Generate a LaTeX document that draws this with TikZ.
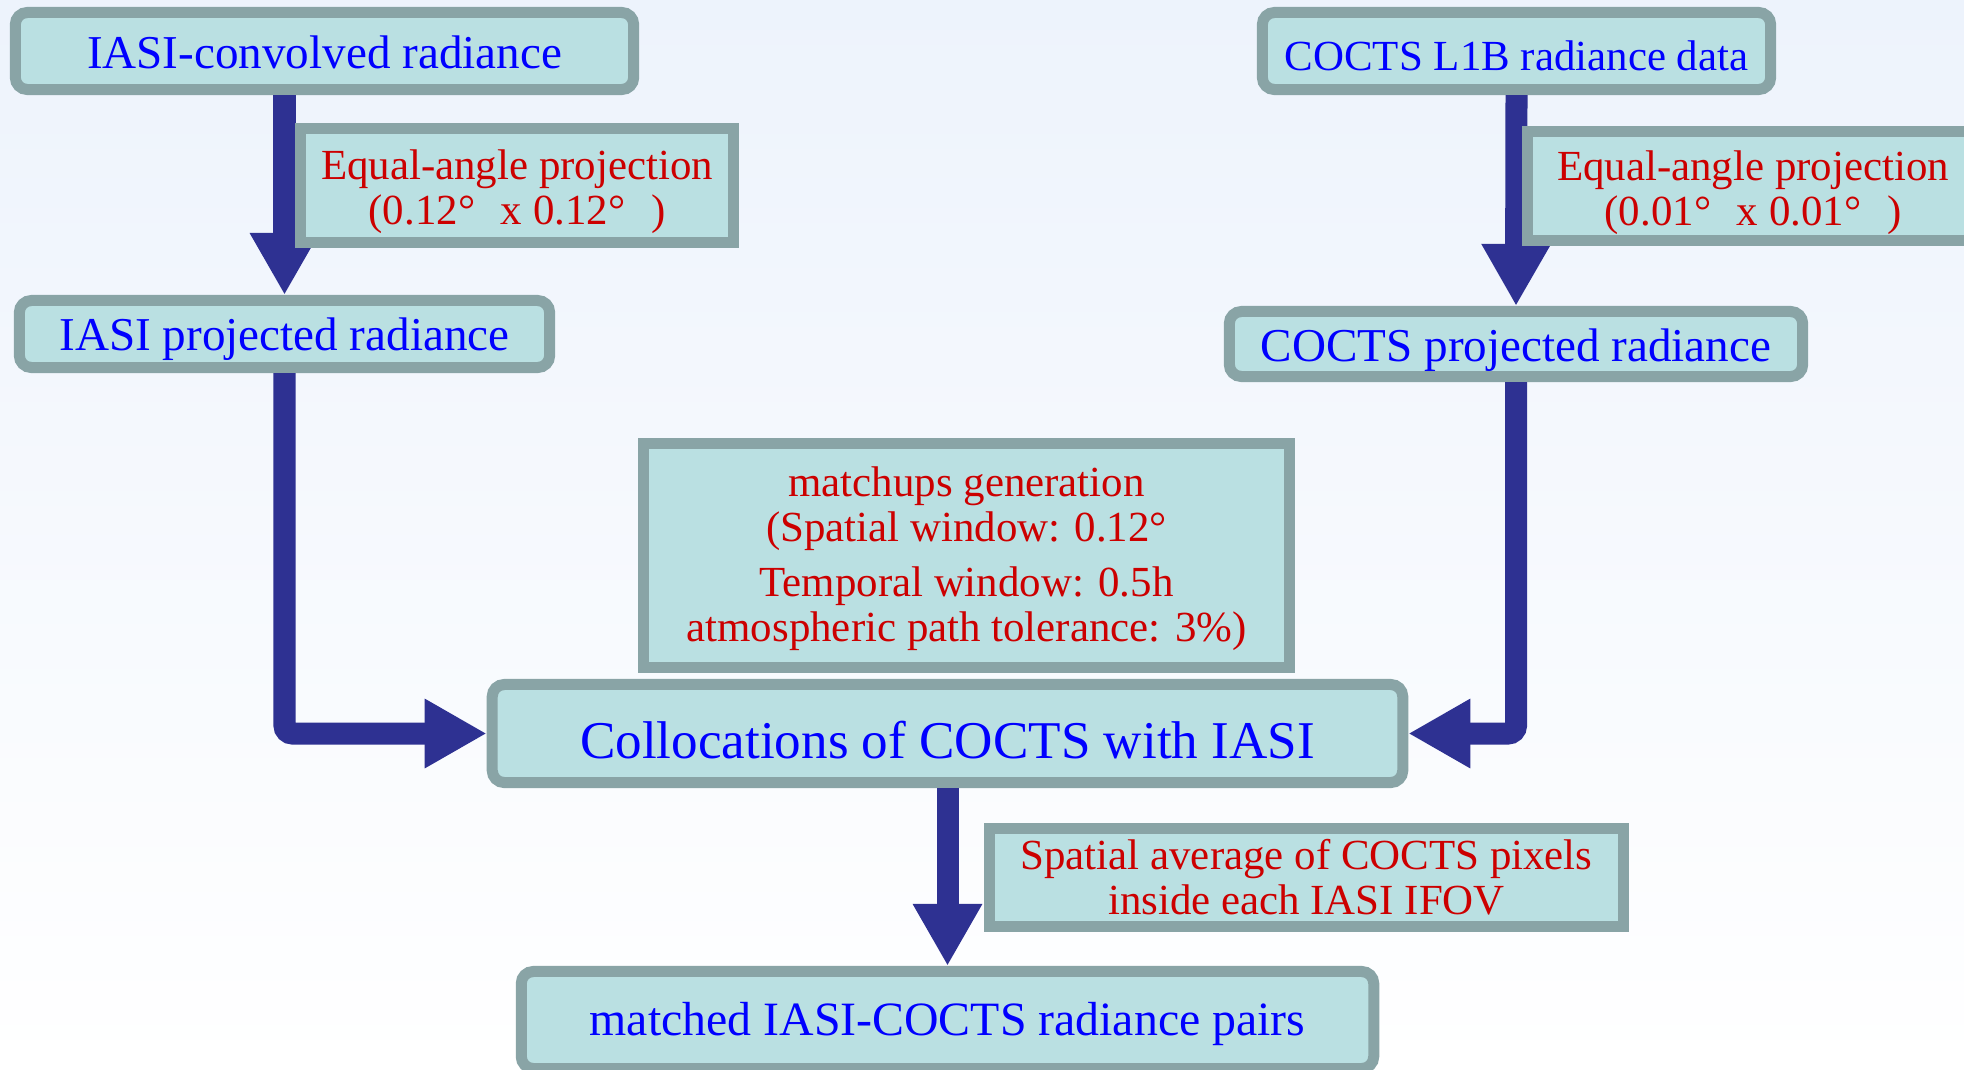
\documentclass[tikz,border=0pt]{standalone}
\usepackage{fontspec}
\setmainfont{Liberation Serif}
\usepackage{xcolor}
\usetikzlibrary{arrows.meta,positioning}
\definecolor{boxfill}{HTML}{BAE0E2}
\definecolor{boxline}{HTML}{89A4A6}
\definecolor{flowblue}{HTML}{2E3192}
\definecolor{txtblue}{HTML}{0000FF}
\definecolor{txtred}{HTML}{CC0000}
\definecolor{bgtop}{HTML}{EDF3FC}
\newcommand{\headroom}[1]{\rule{0pt}{#1}}

\begin{document}
\begin{tikzpicture}[x=0.01cm,y=-0.01cm,
  stepbox/.style={draw=boxline,fill=boxfill,line width=0.11cm,rounded corners=0.12cm,
    text=txtblue,inner sep=0pt,text height=0.33cm,text depth=0pt,
    font=\fontsize{13.4}{16}\selectfont},
  notebox/.style={draw=boxline,fill=boxfill,line width=0.11cm,text=txtred,
    align=center,inner sep=0pt,font=\fontsize{12.2}{12.8}\selectfont},
  flow/.style={draw=flowblue,line width=0.22cm,rounded corners=0.08cm,
    -{Triangle[length=0.62cm,width=0.65cm]}}]
\useasboundingbox (0,0) rectangle (1964,1069);
\clip (0,0) rectangle (1964,1069);
\shade[top color=bgtop,bottom color=white] (0,0) rectangle (1964,1069);

\node[stepbox,minimum width=6.18cm,minimum height=0.77cm,text height=0.34cm] (iasiconv) at (324.5,51) {IASI-convolved radiance};
\node[stepbox,minimum width=5.30cm,minimum height=0.67cm,text height=0.32cm] (iasiproj) at (284.5,334) {IASI projected radiance};
\node[stepbox,minimum width=5.08cm,minimum height=0.77cm,text height=0.38cm,font=\fontsize{12.2}{14}\selectfont] (cocl1b) at (1516.5,51) {COCTS L1B radiance data};
\node[stepbox,minimum width=5.73cm,minimum height=0.65cm,text height=0.34cm] (cocproj) at (1516,344) {COCTS projected radiance};
\node[stepbox,minimum width=9.10cm,minimum height=0.98cm,text height=0.49cm,font=\fontsize{15.1}{18}\selectfont] (colloc) at (947.5,733.5) {Collocations of COCTS with IASI};
\node[stepbox,minimum width=8.52cm,minimum height=0.97cm,text height=0.30cm,font=\fontsize{13.6}{16}\selectfont] (pairs) at (947.5,1020) {matched IASI-COCTS radiance pairs};

\draw[flow] (iasiproj.north |- iasiconv.south) -- (iasiproj.north);
\draw[flow] (cocl1b.south) -- (cocproj.north);
\draw[flow] (iasiproj.south) |- (colloc.west);
\draw[flow] (cocproj.south) |- (colloc.east);
\draw[flow] (colloc.south) -- (pairs.north);

\node[notebox,minimum width=4.33cm,minimum height=1.14cm] (projiasi) at (517,185.5) {\headroom{12.2pt}Equal-angle projection\\(0.12°\hspace{0.6em}x 0.12°\hspace{0.6em})};
\node[notebox,minimum width=4.51cm,minimum height=1.09cm] (projcocts) at (1753,186) {\headroom{12.2pt}Equal-angle projection\\(0.01°\hspace{0.6em}x 0.01°\hspace{0.6em})};
\node[notebox,minimum width=6.46cm,minimum height=2.24cm] (matchup) at (966.5,555.5) {\headroom{10.5pt}matchups generation\\(Spatial window: 0.12°\\[2.8pt]Temporal window: 0.5h\\atmospheric path tolerance: 3\%)};
\node[notebox,minimum width=6.34cm,minimum height=0.98cm] (average) at (1306.5,877.5) {Spatial average of COCTS pixels\\inside each IASI IFOV};
\end{tikzpicture}
\end{document}
